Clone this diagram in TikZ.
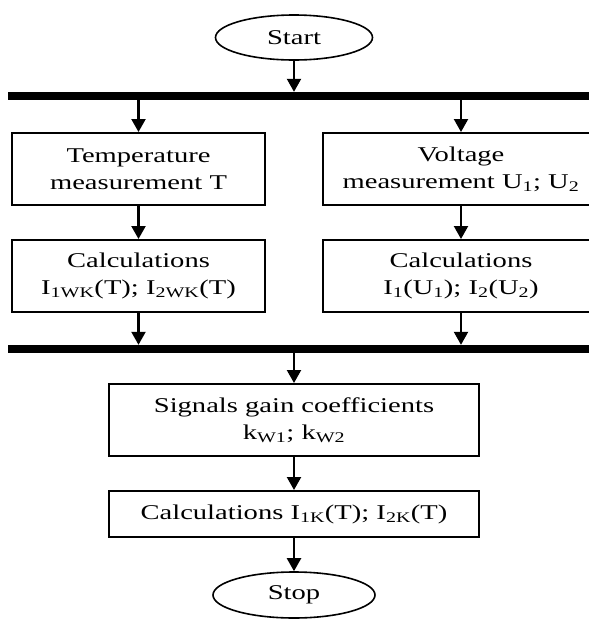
\documentclass[tikz,border=0pt]{standalone}
\usepackage{fontspec}
\setmainfont[FakeStretch=1.36]{Liberation Serif}
\usetikzlibrary{arrows.meta,shapes.geometric}

\begin{document}
\begin{tikzpicture}[x=1pt, y=-1pt,
    font=\fontsize{21}{27}\selectfont,
    procbox/.style = {draw, line width=2pt, align=center, inner sep=0pt,
                      minimum width=253pt, minimum height=72pt},
    termnode/.style = {draw, ellipse, line width=1.6pt, inner sep=0pt,
                       minimum width=157pt, minimum height=45pt},
    busbar/.style = {fill=black, inner sep=0pt, minimum width=590pt, minimum height=8pt},
    flowarrow/.style = {line width=2.2pt, -{Triangle[width=14pt,length=13pt]}}]
      \useasboundingbox (0,0) rectangle (589,622);
      \clip (0,0) rectangle (589,622);
      % terminals and bars
      \node[termnode] (start) at (294,37.5) {Start};
      \node[busbar] (forkbar) at (303,96) {};
      \node[busbar] (joinbar) at (303,349) {};
      \node[termnode, minimum width=162pt, minimum height=46pt] (stop) at (294,595) {Stop};
      % left branch
      \node[procbox] (temp) at (138.5,169) {Temperature\\measurement T};
      \node[procbox] (calcT) at (138.5,276)
            {Calculations\\I\textsubscript{1WK}(T); I\textsubscript{2WK}(T)};
      % right branch
      \node[procbox, minimum width=276pt] (volt) at (461,169)
            {Voltage\\measurement U\textsubscript{1}; U\textsubscript{2}};
      \node[procbox, minimum width=276pt] (calcU) at (461,276)
            {Calculations\\I\textsubscript{1}(U\textsubscript{1}); I\textsubscript{2}(U\textsubscript{2})};
      % after the join
      \node[procbox, minimum width=370pt] (gain) at (294,420)
            {Signals gain coefficients\\k\textsubscript{W1}; k\textsubscript{W2}};
      \node[procbox, minimum width=370pt, minimum height=46pt] (calcK) at (294,514)
            {Calculations I\textsubscript{1K}(T); I\textsubscript{2K}(T)};
      % connectors
      \draw[flowarrow] (start) -- (start |- forkbar.north);
      \draw[flowarrow] (forkbar.south -| temp) -- (temp.north);
      \draw[flowarrow] (forkbar.south -| volt) -- (volt.north);
      \draw[flowarrow] (temp) -- (calcT);
      \draw[flowarrow] (volt) -- (calcU);
      \draw[flowarrow] (calcT.south) -- (joinbar.north -| calcT);
      \draw[flowarrow] (calcU.south) -- (joinbar.north -| calcU);
      \draw[flowarrow] (joinbar.south -| gain) -- (gain.north);
      \draw[flowarrow] (gain) -- (calcK);
      \draw[flowarrow] (calcK) -- (stop);
\end{tikzpicture}
\end{document}
